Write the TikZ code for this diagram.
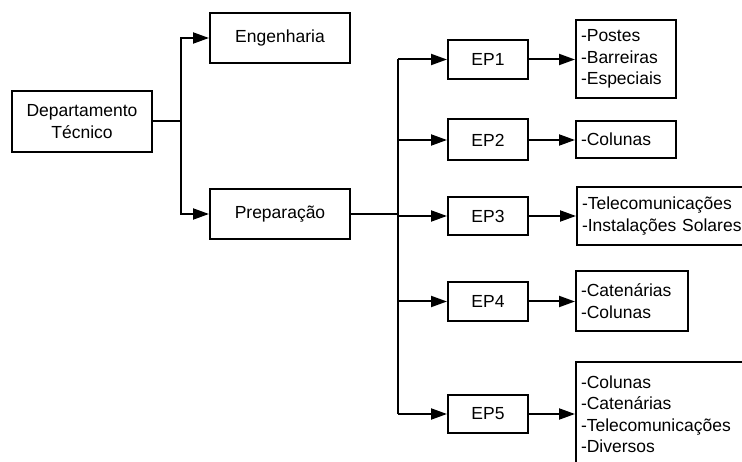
\documentclass[tikz,border=0pt]{standalone}
\usepackage{fontspec}
\setmainfont{Liberation Sans}
\usetikzlibrary{arrows.meta}

\begin{document}
\begin{tikzpicture}[x=1pt, y=-1pt,
  every node/.style={font=\fontsize{17.5}{21.5}\selectfont},
  unit/.style={draw, line width=2pt, inner sep=0pt, minimum width=140pt},
  epbox/.style={draw, line width=2pt, inner sep=0pt, minimum width=80pt, minimum height=39pt},
  listbox/.style={draw, line width=2pt, anchor=west, align=left, inner xsep=5pt, inner ysep=0pt,
    minimum width=#1, text width=#1-10pt},
  link/.style={line width=2pt},
  arr/.style={line width=2pt, -{Triangle[length=16pt, width=11pt]}}
]
\useasboundingbox (0,0) rectangle (742,462);
\clip (0,0) rectangle (742,462);
\fill[white] (0,0) rectangle (742,462);

% departments
\node[unit, minimum height=61pt, align=center] (dept) at (82,121.5) {Departamento\\Técnico};
\node[unit, minimum height=50pt] (eng)  at (280,38)  {Engenharia};
\node[unit, minimum height=50pt] (prep) at (280,214) {Preparação};

% work teams
\node[epbox] (ep1) at (488,59.5) {EP1};
\node[epbox, minimum height=41pt] (ep2) at (488,140) {EP2};
\node[epbox, minimum height=38pt] (ep3) at (488,216) {EP3};
\node[epbox] (ep4) at (488,301.5) {EP4};
\node[epbox, minimum height=38pt] (ep5) at (488,414) {EP5};

% activity lists
\node[listbox=100pt, minimum height=78pt] (r1) at (575,59) {-Postes\\-Barreiras\\-Especiais};
\node[listbox=100pt, minimum height=37pt] (r2) at (575,139.5) {-Colunas};
\node[listbox=190pt, minimum height=58pt] (r3) at (576,216) {-Telecomunicações\\-Instalações Solares};
\node[listbox=112pt, minimum height=60pt] (r4) at (575,301) {-Catenárias\\-Colunas};
\node[listbox=190pt, minimum height=104pt] (r5) at (575,414) {-Colunas\\-Catenárias\\-Telecomunicações\\-Diversos};

% department split
\coordinate (j1) at (181,121.5);
\draw[link] (dept.east) -- (j1);
\draw[arr] (j1) |- (eng.west);
\draw[arr] (j1) |- (prep.west);

% preparation bus
\coordinate (bus) at (398,214);
\draw[link] (prep.east) -- (bus);
\draw[link] (bus |- ep1.west) -- (bus |- ep5.west);
\foreach \e in {ep1,ep2,ep3,ep4,ep5}
  \draw[arr] (bus |- \e.west) -- (\e.west);

% teams to activities
\draw[arr] (ep1.east) -- (ep1.east -| r1.west);
\draw[arr] (ep2.east) -- (ep2.east -| r2.west);
\draw[arr] (ep3.east) -- (ep3.east -| r3.west);
\draw[arr] (ep4.east) -- (ep4.east -| r4.west);
\draw[arr] (ep5.east) -- (ep5.east -| r5.west);
\end{tikzpicture}
\end{document}
